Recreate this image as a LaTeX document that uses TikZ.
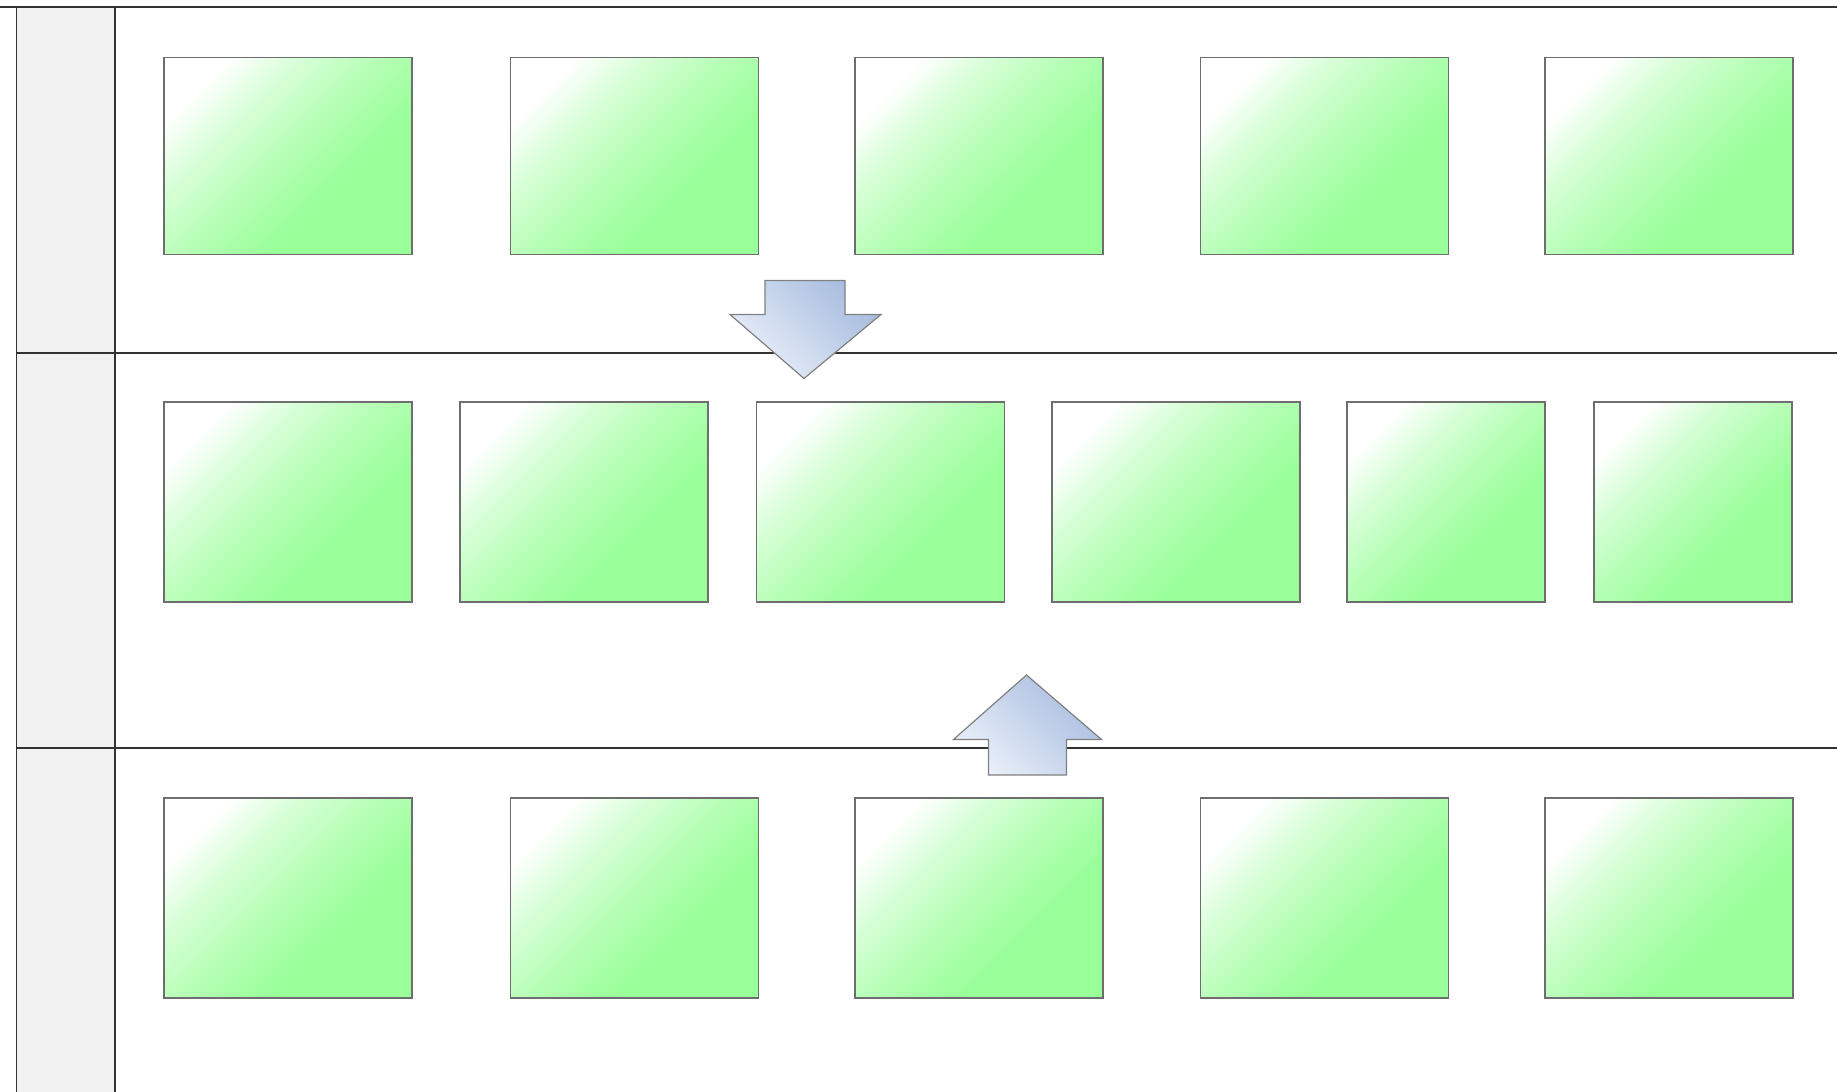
\documentclass[tikz,border=0pt]{standalone}
\begin{document}
\definecolor{lanegray}{HTML}{F2F2F2}
\definecolor{lineclr}{HTML}{333333}
\definecolor{boxborder}{HTML}{6E6E6E}
\definecolor{greenA}{HTML}{99FF99}
\definecolor{greenB}{HTML}{B6FFB6}
\definecolor{greenC}{HTML}{D8FFD8}
\definecolor{blueA}{HTML}{A7BCDF}
\definecolor{blueB}{HTML}{EAF0F9}
\pgfdeclareverticalshading{boxshade}{100bp}{color(0bp)=(greenA); color(25bp)=(greenA); color(37bp)=(greenA); color(51bp)=(greenB); color(64bp)=(greenC); color(75bp)=(white); color(100bp)=(white)}
\begin{tikzpicture}[x=1pt,y=-1pt,
  box/.style={draw=boxborder, line width=1.9pt, anchor=north west, inner sep=0pt,
    shading=boxshade, shading angle=45},
  wide/.style={box, minimum width=248pt},
  narrow/.style={box, minimum width=198pt},
  h1/.style={minimum height=197pt},
  h2/.style={minimum height=200pt},
  lane/.style={draw=lineclr, line width=1.7pt},
  bigarrow/.style={draw=gray, line width=1.2pt, top color=blueA, bottom color=blueB, shading angle=-45}]
\useasboundingbox (0,0) rectangle (1837,1092);
% left column
\fill[lanegray] (16.5,7) rectangle (115,1092);
\draw[lane] (16.5,7) -- (16.5,1092);
\draw[lane] (115,7) -- (115,1092);
\draw[lane] (0,7) -- (1837,7);
\draw[lane] (16.5,353) -- (1837,353);
\draw[lane] (16.5,748) -- (1837,748);
% row 1
\node[wide,h1] (a1) at (163,56.5) {};
\node[wide,h1] (a2) at (509.5,56.5) {};
\node[wide,h1] (a3) at (854,56.5) {};
\node[wide,h1] (a4) at (1199.5,56.5) {};
\node[wide,h1] (a5) at (1544,56.5) {};
% row 2
\node[wide,h2] (b1) at (163,401) {};
\node[wide,h2] (b2) at (459,401) {};
\node[wide,h2] (b3) at (755.5,401) {};
\node[wide,h2] (b4) at (1051,401) {};
\node[narrow,h2] (b5) at (1346,401) {};
\node[narrow,h2] (b6) at (1593,401) {};
% row 3
\node[wide,h2] (c1) at (163,797) {};
\node[wide,h2] (c2) at (509.5,797) {};
\node[wide,h2] (c3) at (854,797) {};
\node[wide,h2] (c4) at (1199.5,797) {};
\node[wide,h2] (c5) at (1544,797) {};
% down arrow
\path[bigarrow] (765,280.5) -- (845,280.5) -- (845,314.5) -- (881,314.5) -- (804,378.5) -- (730,314.5) -- (765,314.5) -- cycle;
% up arrow
\path[bigarrow] (988.5,775) -- (1066.5,775) -- (1066.5,739.5) -- (1101.5,739.5) -- (1026.5,675) -- (953.5,739.5) -- (988.5,739.5) -- cycle;
\end{tikzpicture}
\end{document}
